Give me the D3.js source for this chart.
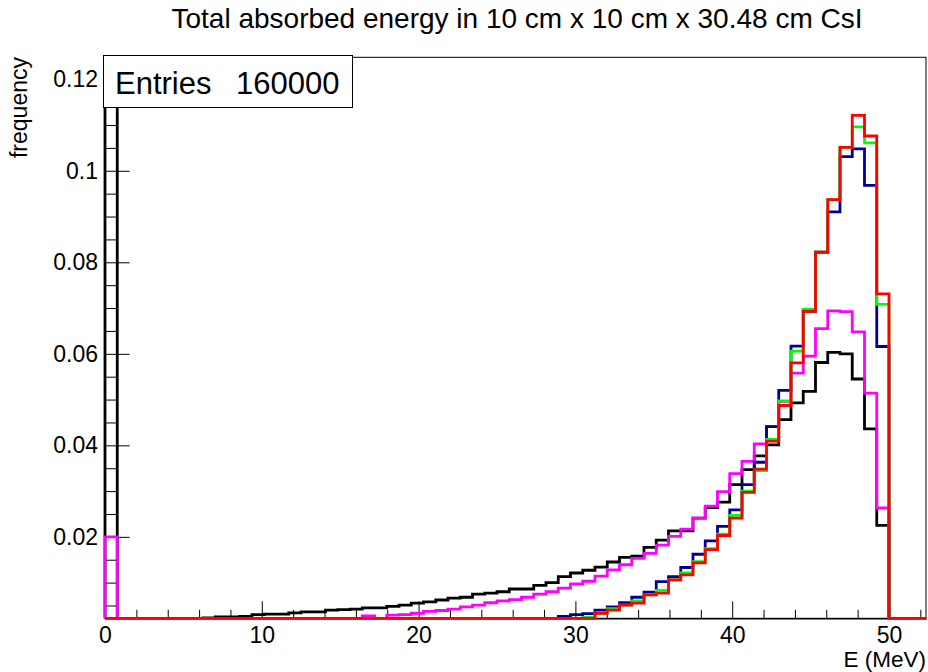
<!DOCTYPE html>
<html>
<head>
<meta charset="utf-8">
<script src="https://cdn.jsdelivr.net/npm/d3@7"></script>
<style>
  body { margin: 0; background: #fff; }
  text { font-family: "Liberation Sans", Arial, Helvetica, sans-serif; }
</style>
</head>
<body>
<script>
// histogram contents, 64 bins of 50/64 MeV starting at 0
var hBlack = [0.30, 0, 0, 0, 0, 0, 0,
  0.0022, 0.0023, 0.0025, 0.0025, 0.0026, 0.0030, 0.0031, 0.0031, 0.0034, 0.0036,
  0.0036, 0.0040, 0.0041, 0.0042, 0.0045, 0.0045, 0.0048, 0.0051, 0.0055, 0.0058,
  0.0062, 0.0066, 0.0068, 0.0075, 0.0077, 0.0080, 0.0086, 0.0086, 0.0094, 0.0100,
  0.0113, 0.0121, 0.0127, 0.0134, 0.0145, 0.0155, 0.0158, 0.0177, 0.0193, 0.0213,
  0.0213, 0.0241, 0.0264, 0.0276, 0.0314, 0.0347, 0.0377, 0.0401, 0.0456, 0.0493,
  0.0518, 0.0581, 0.0603, 0.0600, 0.0545, 0.0436, 0.0225];
var hMagenta = [0.0200, 0, 0, 0, 0, 0, 0, 0, 0, 0, 0, 0, 0, 0, 0, 0, 0, 0, 0, 0, 0,
  0.0027, 0.0019, 0.0029, 0.0030, 0.0033, 0.0037, 0.0039, 0.0042, 0.0047, 0.0051,
  0.0056, 0.0060, 0.0063, 0.0068, 0.0075, 0.0080, 0.0088, 0.0097, 0.0103, 0.0114,
  0.0128, 0.0139, 0.0153, 0.0164, 0.0182, 0.0201, 0.0217, 0.0241, 0.0267, 0.0299,
  0.0338, 0.0365, 0.0403, 0.0441, 0.0496, 0.0558, 0.0595, 0.0655, 0.0694, 0.0692,
  0.0648, 0.0514, 0.0263];
var hBlue = [0, 0, 0, 0, 0, 0, 0, 0, 0, 0, 0, 0, 0, 0, 0, 0, 0, 0, 0, 0, 0, 0, 0, 0, 0,
  0, 0, 0, 0, 0, 0, 0, 0, 0, 0, 0, 0,
  0.0026, 0.0030, 0.0032, 0.0040, 0.0047, 0.0056, 0.0068, 0.0079, 0.0102, 0.0113,
  0.0133, 0.0162, 0.0191, 0.0223, 0.0259, 0.0314, 0.0363, 0.0441, 0.0520, 0.0617,
  0.0693, 0.0822, 0.0910, 0.1031, 0.1048, 0.0968, 0.0616];
var hGreen = [0, 0, 0, 0, 0, 0, 0, 0, 0, 0, 0, 0, 0, 0, 0, 0, 0, 0, 0, 0, 0, 0, 0, 0, 0,
  0, 0, 0, 0, 0, 0, 0, 0, 0, 0, 0, 0, 0, 0,
  0.0024, 0.0033, 0.0043, 0.0051, 0.0060, 0.0073, 0.0083, 0.0106, 0.0121, 0.0146,
  0.0174, 0.0206, 0.0247, 0.0300, 0.0345, 0.0413, 0.0497, 0.0606, 0.0697, 0.0822,
  0.0937, 0.1051, 0.1096, 0.1061, 0.0708];
var hRed = [0, 0, 0, 0, 0, 0, 0, 0, 0, 0, 0, 0, 0, 0, 0, 0, 0, 0, 0, 0, 0, 0, 0, 0, 0,
  0, 0, 0, 0, 0, 0, 0, 0, 0, 0, 0, 0, 0, 0, 0,
  0.0033, 0.0040, 0.0051, 0.0055, 0.0073, 0.0077, 0.0106, 0.0117, 0.0143, 0.0172,
  0.0203, 0.0241, 0.0297, 0.0348, 0.0409, 0.0487, 0.0580, 0.0693, 0.0822, 0.0937,
  0.1051, 0.1121, 0.1076, 0.0731];

var seriesColors = ["#000000", "#ff00ff", "#000099", "#00ff00", "#ff0000"];
var xTicks = [0, 10, 20, 30, 40, 50];
var xTickLabels = ["0", "10", "20", "30", "40", "50"];
var yTicks = [0.02, 0.04, 0.06, 0.08, 0.1, 0.12];
var yTickLabels = ["0.02", "0.04", "0.06", "0.08", "0.1", "0.12"];
var entries = 160000;

var binWidth = 50 / 64;
var nBins = 67;          // histogram keeps going (empty) past 50 MeV
var xMax = 52.36, yMin = 0.0022, yMax = 0.1248;

//canvas
var width = 928;
var height = 672;
var svg = d3.select("body")
            .append("svg")
            .attr("width", width)
            .attr("height", height);

var frame = {left: 105, right: 926, top: 57.3, bottom: 618.3};
var x = d3.scaleLinear().domain([0, xMax]).range([frame.left, frame.right]);
var y = d3.scaleLinear().domain([yMin, yMax]).range([frame.bottom, frame.top]);

svg.append("rect")
   .attr("x", frame.left).attr("y", frame.top)
   .attr("width", frame.right - frame.left).attr("height", frame.bottom - frame.top)
   .attr("fill", "none").attr("stroke", "#000").attr("stroke-width", 1);

// axes: ticks point inwards, like ROOT
var xMinor = d3.range(2, xMax, 2).filter(function(d){ return d % 10 !== 0; });
var yMinor = d3.range(0.005, yMax, 0.005).filter(function(d){ return Math.abs(d / 0.02 - Math.round(d / 0.02)) > 1e-6; });

var gx = svg.append("g").attr("transform", "translate(0," + frame.bottom + ")");
gx.call(d3.axisBottom(x).tickValues(xTicks).tickSize(-17).tickSizeOuter(0).tickPadding(8)
          .tickFormat(function(d, i){ return xTickLabels[i]; }));
gx.append("g").call(d3.axisBottom(x).tickValues(xMinor).tickSize(-8.5).tickSizeOuter(0).tickFormat(""));

var gy = svg.append("g").attr("transform", "translate(" + frame.left + ",0)");
gy.call(d3.axisLeft(y).tickValues(yTicks).tickSize(-24.6).tickSizeOuter(0).tickPadding(7)
          .tickFormat(function(d, i){ return yTickLabels[i]; }));
gy.append("g").call(d3.axisLeft(y).tickValues(yMinor).tickSize(-12.3).tickSizeOuter(0).tickFormat(""));

svg.selectAll(".tick text").attr("font-size", 23).attr("fill", "#000")
   .attr("font-family", "'Liberation Sans', Arial, sans-serif");
svg.selectAll(".domain").attr("stroke", "#000");
svg.selectAll(".tick line").attr("stroke", "#000");

// histograms as step outlines
var clampV = function(v){ return Math.max(yMin, Math.min(yMax, v)); };
var line = d3.line()
             .x(function(d){ return x(d[0]); })
             .y(function(d){ return y(clampV(d[1])); });

var histos = [hBlack, hMagenta, hBlue, hGreen, hRed];
histos.forEach(function(h, k){
    var pts = [[0, 0]];
    for (var i = 0; i < nBins; i++) {
        var v = h[i] || 0;
        pts.push([i * binWidth, v]);
        pts.push([(i + 1) * binWidth, v]);
    }
    pts.push([nBins * binWidth, 0]);
    svg.append("path")
       .attr("d", line(pts))
       .attr("fill", "none")
       .attr("stroke", seriesColors[k])
       .attr("stroke-width", 2.8)
       .attr("stroke-linejoin", "miter");
});

// stats box
svg.append("rect")
   .attr("x", 103.5).attr("y", 55.5).attr("width", 249).attr("height", 52)
   .attr("fill", "#fff").attr("stroke", "#000").attr("stroke-width", 1);
svg.append("text").attr("x", 115).attr("y", 94.3).attr("font-size", 31).text("Entries");
svg.append("text").attr("x", 339.5).attr("y", 94.3).attr("font-size", 31)
   .attr("text-anchor", "end").text(entries);

// titles
svg.append("text").attr("x", 517).attr("y", 28).attr("font-size", 28)
   .attr("text-anchor", "middle").text("Total absorbed energy in 10 cm x 10 cm x 30.48 cm CsI");
svg.append("text").attr("x", 926).attr("y", 667).attr("font-size", 22.5)
   .attr("text-anchor", "end").text("E (MeV)");
svg.append("text").attr("transform", "translate(27,57) rotate(-90)").attr("font-size", 23)
   .attr("text-anchor", "end").text("frequency");
</script>
</body>
</html>
